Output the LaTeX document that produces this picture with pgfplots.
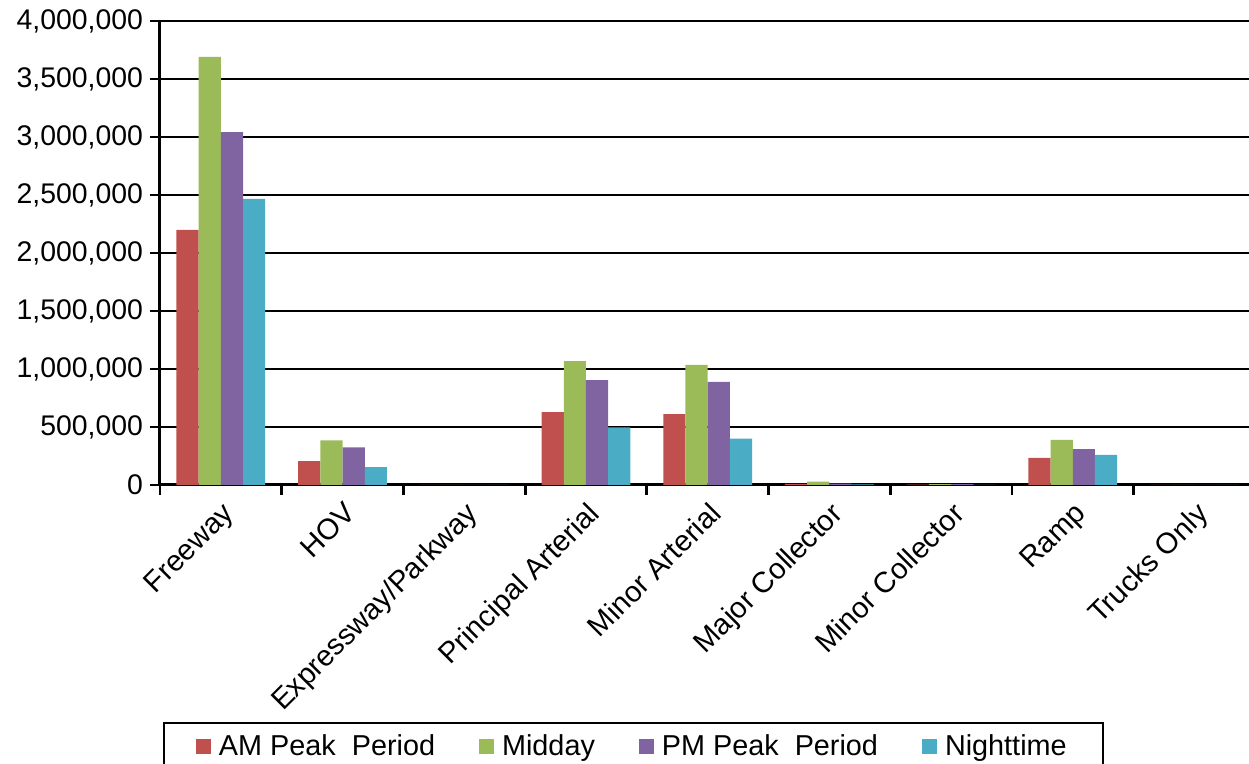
\documentclass[border=0pt]{standalone}
\usepackage{pgfplots}
\pgfplotsset{compat=1.18}
\usepackage{fontspec}
\setmainfont{Liberation Sans}
\definecolor{cAM}{HTML}{C0504D}
\definecolor{cMD}{HTML}{9BBB59}
\definecolor{cPM}{HTML}{8064A2}
\definecolor{cNT}{HTML}{4BACC6}
\begin{document}
\begin{tikzpicture}
\useasboundingbox (-80pt,-139.5pt) rectangle (544.5pt,242.5pt);
\clip (-80pt,-139.5pt) rectangle (544.5pt,242.5pt);
\begin{axis}[
  at={(0,0)}, anchor=south west,
  scale only axis, width=544.5pt, height=232pt,
  xmin=-0.5, xmax=8.448, ymin=0, ymax=4000000,
  axis x line=bottom, axis y line=left,
  axis line style={-, black, line width=1.5pt},
  ytick={0,500000,...,4000000},
  scaled y ticks=false,
  yticklabel style={/pgf/number format/.cd, fixed, 1000 sep={,}, assume math mode=true},
  ymajorgrids, grid style={black, line width=1.4pt},
  tick style={black, line width=1.4pt},
  tick align=outside, major tick length=5pt,
  tick label style={font=\fontsize{14.2}{16}\selectfont},
  xtick={-0.5,0.5,...,7.5}, xticklabels={},
  extra x ticks={0,1,2,3,4,5,6,7,8},
  extra x tick labels={Freeway,HOV,Expressway/Parkway,Principal Arterial,Minor Arterial,Major Collector,Minor Collector,Ramp,Trucks Only},
  extra x tick style={major tick length=0pt, grid=none, tick label style={rotate=45, anchor=north east, xshift=-2pt, yshift=-2pt, font=\fontsize{14.6}{16}\selectfont}},
  ybar=0pt, bar width=11.1pt,
  legend columns=4,
  legend style={at={(0,0)}, anchor=north west, xshift=1.5pt, yshift=-118.5pt,
    draw=black, line width=1pt, font=\fontsize{14.4}{17}\selectfont,
    inner xsep=16pt, inner ysep=4pt,
    /tikz/every odd column/.append style={column sep=2pt},
    /tikz/every even column/.append style={column sep=20pt}},
  legend image code/.code={\fill[#1] (0pt,-3.75pt) rectangle (7.5pt,3.75pt);},
]
\addplot[fill=cAM, draw=none] coordinates {(0,2200000) (1,205000) (2,0) (3,628000) (4,612000) (5,10000) (6,3000) (7,233000) (8,0)};
\addplot[fill=cMD, draw=none] coordinates {(0,3690000) (1,385000) (2,0) (3,1068000) (4,1035000) (5,28000) (6,8000) (7,388000) (8,0)};
\addplot[fill=cPM, draw=none] coordinates {(0,3043000) (1,325000) (2,0) (3,905000) (4,888000) (5,12000) (6,8000) (7,310000) (8,0)};
\addplot[fill=cNT, draw=none] coordinates {(0,2466000) (1,155000) (2,0) (3,497000) (4,400000) (5,5000) (6,2000) (7,259000) (8,0)};
\legend{AM Peak\ \ Period, Midday, PM Peak\ \ Period, Nighttime}
\end{axis}
\end{tikzpicture}
\end{document}
